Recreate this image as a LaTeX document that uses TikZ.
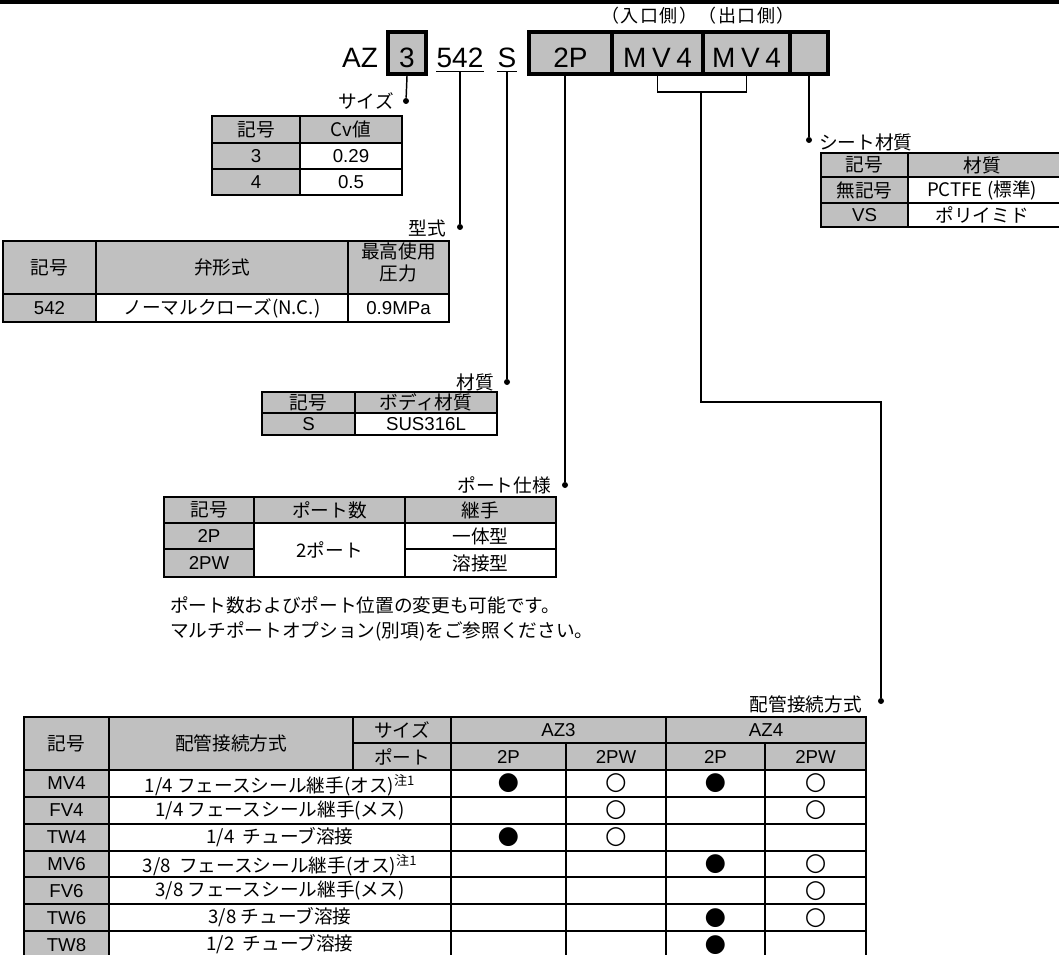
\documentclass[tikz,border=0pt]{standalone}
\usepackage{fontspec}
\setmainfont{Liberation Sans}
\newfontfamily\jpfont{Noto Sans CJK JP}
\newfontfamily\jpwide[LetterSpace=8]{Noto Sans CJK JP}
\newfontfamily\codewide[LetterSpace=20]{Liberation Sans}
\newfontfamily\symfont{DejaVu Sans}
\usepackage{tikz}
\usetikzlibrary{positioning}
\definecolor{cellgray}{HTML}{C0C0C0}

\begin{document}
\begin{tikzpicture}[
  x=0.75pt, y=-0.75pt,
  jp/.style={inner sep=0pt, font=\jpfont\fontsize{14}{16.5}\selectfont},
  lat/.style={inner sep=0pt, font=\fontsize{14}{16}\selectfont},
  code/.style={inner sep=0pt, anchor=base, font=\fontsize{21}{24}\selectfont},
  codebox/.style={draw, line width=3pt, fill=cellgray, inner sep=0pt,
    minimum height=31.5pt, text height=22.5pt, text depth=0pt,
    font=\fontsize{21}{24}\selectfont},
  tline/.style={line width=1.5pt},
  conn/.style={line width=1.1pt},
  dot/.style={circle, fill, inner sep=0pt, minimum size=4.5pt},
  avail/.style={inner sep=0pt, font=\symfont\fontsize{18.5}{20}\selectfont}
]
  \useasboundingbox (0,0) rectangle (1059,955);
  \fill (0,0) rectangle (1059,4);

  % model code
  \node[jp, font=\jpwide\fontsize{13.5}{16}\selectfont] (sides) at (698,16) {（入口側）（出口側）};
  \node[code] (nAZ) at (360,68) {AZ};
  \node[codebox, minimum width=28.5pt] (n3) at (407,53) {3};
  \node[code] (n542) at (460,68) {542};
  \node[code] (nS) at (507,68) {S};
  \node[codebox, minimum width=62.25pt] (n2P) at (570.5,53) {2P};
  \node[codebox, minimum width=68.25pt] (nIn) at (657.5,53) {\codewide MV4};
  \node[codebox, minimum width=65.25pt] (nOut) at (746.5,53) {\codewide MV4};
  \node[codebox, minimum width=28.5pt] (nSeat) at (809,53) {};
  \draw[conn] ([yshift=-2.25pt]n542.south west) -- ([yshift=-2.25pt]n542.south east);
  \draw[conn] ([yshift=-2.25pt]nS.south west) -- ([yshift=-2.25pt]nS.south east);

  % leader dots and labels
  \node[dot] (dotSize) at (406,101) {};
  \node[dot] (dotType) at (460,227) {};
  \node[dot] (dotMat)  at (507,382) {};
  \node[dot] (dotPort) at (565,485) {};
  \node[dot] (dotPipe) at (881,701) {};
  \node[dot] (dotSeat) at (809,140) {};
  \coordinate (brk)  at (701,92);
  \coordinate (bend) at (881,402);

  \node[jp, anchor=east] (lSize) at (394,101) {サイズ};
  \node[jp, anchor=east] (lType) at (446,228) {型式};
  \node[jp, anchor=east] (lMat)  at (494,382) {材質};
  \node[jp, anchor=east] (lPort) at (551,485) {ポート仕様};
  \node[jp, anchor=east] (lPipe) at (862,704) {配管接続方式};
  \node[jp, anchor=west] (lSeat) at (819,142) {シート材質};

  \draw[conn] (n3.south) -- (dotSize);
  \draw[conn] ([yshift=-2.25pt]n542.south) -- (dotType);
  \draw[conn] ([yshift=-2.25pt]nS.south) -- (dotMat);
  \draw[conn] (dotPort |- n2P.south) -- (dotPort);
  \draw[conn] (nIn.south) |- (brk) -| (nOut.south);
  \draw[conn] (brk) |- (bend) -- (dotPipe);
  \draw[conn] (nSeat.south) -- (dotSeat);

  % size table
  \fill[cellgray] (212,116) rectangle (402,143) (212,143) rectangle (300,195);
  \draw[tline] (212,116) rectangle (402,195) (300,116) -- (300,195)
    (212,143) -- (402,143) (212,169) -- (402,169);
  \node[jp]  (sz0a) at (256,129.5) {記号};
  \node[jp]  (sz0b) at (351,129.5) {Cv値};
  \node[lat] (sz1a) at (256,156) {3};
  \node[lat] (sz1b) at (351,156) {0.29};
  \node[lat] (sz2a) at (256,182) {4};
  \node[lat] (sz2b) at (351,182) {0.5};

  % type table
  \fill[cellgray] (3,241) rectangle (449,294) (3,294) rectangle (96,322);
  \draw[tline] (3,241) rectangle (449,322) (96,241) -- (96,322)
    (348,241) -- (348,322) (3,294) -- (449,294);
  \node[jp] (ty0a) at (49.5,267.5) {記号};
  \node[jp] (ty0b) at (222,267.5) {弁形式};
  \node[jp, align=center] (ty0c) at (398.5,262) {最高使用\\圧力};
  \node[lat] (ty1a) at (49.5,308) {542};
  \node[jp]  (ty1b) at (222,308) {ノーマルクローズ(N.C.)};
  \node[lat] (ty1c) at (398.5,308) {0.9MPa};

  % body material table
  \fill[cellgray] (262,392) rectangle (497,413) (262,413) rectangle (355,435);
  \draw[tline] (262,392) rectangle (497,435) (355,392) -- (355,435)
    (262,413) -- (497,413);
  \node[jp]  (mt0a) at (308.5,402.5) {記号};
  \node[jp]  (mt0b) at (426,402.5) {ボディ材質};
  \node[lat] (mt1a) at (308.5,424.5) {S};
  \node[lat] (mt1b) at (426,424.5) {SUS316L};

  % port table
  \fill[cellgray] (164,497) rectangle (556,523) (164,523) rectangle (254,577);
  \draw[tline] (164,497) rectangle (556,577) (254,497) -- (254,577)
    (405,497) -- (405,577) (164,523) -- (556,523)
    (164,549) -- (254,549) (405,549) -- (556,549);
  \node[jp]  (pt0a) at (209,510) {記号};
  \node[jp]  (pt0b) at (329.5,510) {ポート数};
  \node[jp]  (pt0c) at (480.5,510) {継手};
  \node[lat] (pt1a) at (209,536) {2P};
  \node[lat] (pt2a) at (209,563) {2PW};
  \node[jp]  (pt1b) at (329.5,550) {2ポート};
  \node[jp]  (pt1c) at (480.5,536) {一体型};
  \node[jp]  (pt2c) at (480.5,563) {溶接型};
  \node[jp, anchor=west] (note1) at (170,605) {ポート数およびポート位置の変更も可能です。};
  \node[jp, anchor=west] (note2) at (170,631) {マルチポートオプション(別項)をご参照ください。};

  % seat material table
  \fill[cellgray] (821,153) rectangle (1062,177) (821,177) rectangle (908,227);
  \draw[tline] (1062,153) -- (821,153) -- (821,227) -- (1062,227)
    (908,153) -- (908,227) (821,177) -- (1062,177) (821,203) -- (1062,203);
  \node[jp]  (st0a) at (864.5,165) {記号};
  \node[jp]  (st0b) at (982,165) {材質};
  \node[jp]  (st1a) at (864.5,190) {無記号};
  \node[jp]  (st1b) at (982,190) {PCTFE (標準)};
  \node[lat] (st2a) at (864.5,215) {VS};
  \node[jp]  (st2b) at (982,215) {ポリイミド};

  % piping table
  \fill[cellgray] (24,717) rectangle (866,770) (24,770) rectangle (109,958);
  \draw[tline] (24,958) -- (24,717) -- (866,717) -- (866,958)
    (109,717) -- (109,958) (353,717) -- (353,770) (451,717) -- (451,958)
    (566,743) -- (566,958) (666,717) -- (666,958) (765,743) -- (765,958)
    (353,743) -- (866,743);
  \foreach \y in {770,797,824,851,877,904,931}
    \draw[tline] (24,\y) -- (866,\y);
  \node[jp]  (pp0a) at (66.5,743.5) {記号};
  \node[jp]  (pp0b) at (231,743.5) {配管接続方式};
  \node[jp]  (pp0c) at (402,730) {サイズ};
  \node[jp]  (pp0d) at (402,756.5) {ポート};
  \node[lat] (pp0e) at (558.5,730) {AZ3};
  \node[lat] (pp0f) at (766,730) {AZ4};
  \node[lat] (pp0g) at (508.5,756.5) {2P};
  \node[lat] (pp0h) at (616,756.5) {2PW};
  \node[lat] (pp0i) at (715.5,756.5) {2P};
  \node[lat] (pp0j) at (815.5,756.5) {2PW};
  \foreach \c [count=\r] in {MV4,FV4,TW4,MV6,FV6,TW6,TW8}
    \node[lat] (pc\r) at (66.5,{756.6+26.86*\r}) {\c};
  \node[jp] (pd1) at (280,785) {1/4 フェースシール継手(オス)\textsuperscript{注1}};
  \node[jp] (pd2) at (280,810.5) {1/4 フェースシール継手(メス)};
  \node[jp] (pd3) at (280,837.5) {1/4~~チューブ溶接};
  \node[jp] (pd4) at (280,865.5) {3/8~~フェースシール継手(オス)\textsuperscript{注1}};
  \node[jp] (pd5) at (280,890.5) {3/8 フェースシール継手(メス)};
  \node[jp] (pd6) at (280,917.5) {3/8 チューブ溶接};
  \node[jp] (pd7) at (280,944.5) {1/2~~チューブ溶接};
  % availability marks
  \foreach \c/\r/\m in {1/1/●, 2/1/○, 3/1/●, 4/1/○, 2/2/○, 4/2/○,
      1/3/●, 2/3/○, 3/4/●, 4/4/○, 4/5/○, 3/6/●, 4/6/○, 3/7/●} {
    \pgfmathsetmacro\xx{{508.5,616,715.5,815.5}[\c-1]}
    \node[avail] (mk\r\c) at (\xx,{756.6+26.86*\r}) {\m};
  }
\end{tikzpicture}
\end{document}
